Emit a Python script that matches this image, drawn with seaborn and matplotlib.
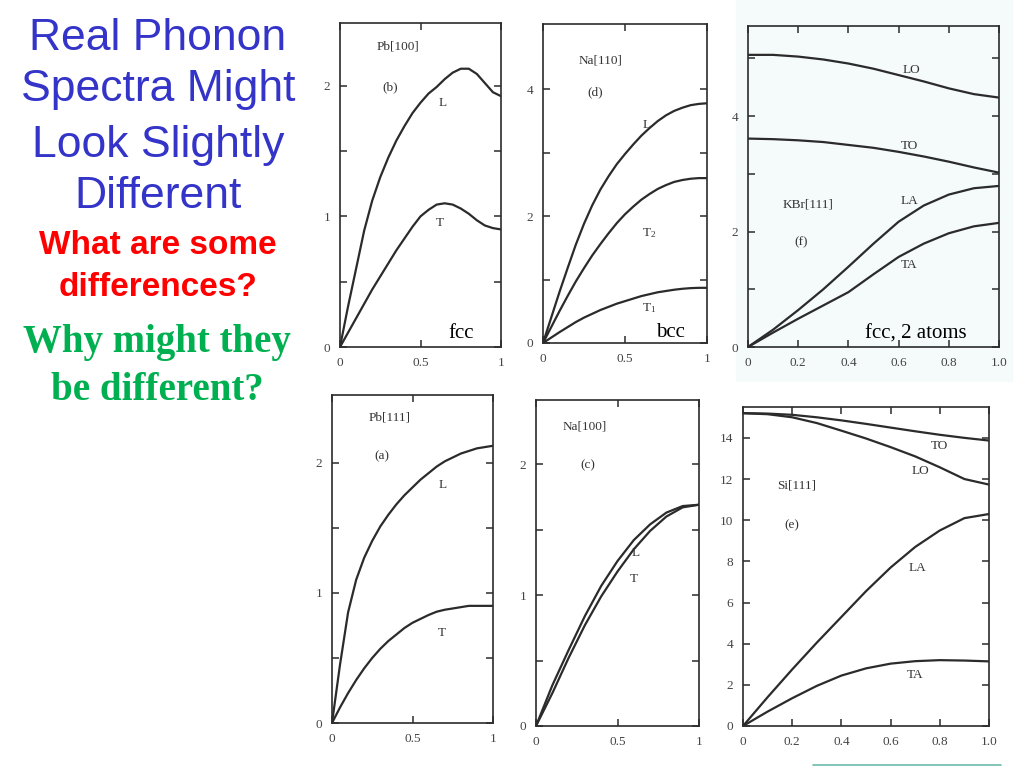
import numpy as np
import matplotlib
matplotlib.use("Agg")
import matplotlib.pyplot as plt
import seaborn as sns

# -----------------------------------------------------------------------------
# data (reduced wave vector vs frequency)
# -----------------------------------------------------------------------------
q21 = [0, .05, .1, .15, .2, .25, .3, .35, .4, .45, .5,
       .55, .6, .65, .7, .75, .8, .85, .9, .95, 1.0]
q11 = [0, .1, .2, .3, .4, .5, .6, .7, .8, .9, 1.0]

# Pb[100]
pb100_L = [0, .31, .60, .89, 1.12, 1.30, 1.45, 1.58, 1.69, 1.79, 1.87,
           1.94, 1.99, 2.05, 2.10, 2.13, 2.13, 2.09, 2.02, 1.95, 1.92]
pb100_T = [0, .11, .22, .33, .44, .54, .64, .74, .83, .92, 1.0,
           1.05, 1.09, 1.10, 1.09, 1.06, 1.02, .97, .93, .91, .90]

# Na[110]
na110_L = [0, .40, .80, 1.18, 1.55, 1.88, 2.17, 2.42, 2.63, 2.82, 2.98,
           3.13, 3.27, 3.39, 3.50, 3.59, 3.66, 3.71, 3.75, 3.77, 3.78]
na110_T2 = [0, .25, .50, .74, .97, 1.18, 1.38, 1.56, 1.73, 1.89, 2.03,
            2.15, 2.26, 2.35, 2.43, 2.49, 2.54, 2.57, 2.59, 2.60, 2.60]
na110_T1 = [0, .085, .17, .25, .33, .40, .46, .52, .57, .62, .66,
            .70, .74, .77, .80, .82, .84, .855, .865, .87, .87]

# KBr[111]
kbr_LO = [5.06, 5.06, 5.03, 4.98, 4.91, 4.82, 4.71, 4.60, 4.48, 4.38, 4.32]
kbr_TO = [3.61, 3.60, 3.58, 3.55, 3.50, 3.45, 3.38, 3.30, 3.21, 3.11, 3.02]
kbr_LA = [0, .30, .64, 1.00, 1.39, 1.79, 2.17, 2.45, 2.64, 2.75, 2.79]
kbr_TA = [0, .25, .49, .72, .95, 1.26, 1.56, 1.79, 1.97, 2.09, 2.15]

# Pb[111]
pb111_L = [0, .45, .85, 1.10, 1.27, 1.40, 1.51, 1.60, 1.68, 1.75, 1.81,
           1.87, 1.92, 1.97, 2.01, 2.04, 2.07, 2.09, 2.11, 2.12, 2.13]
pb111_T = [0, .12, .23, .33, .42, .50, .57, .63, .68, .73, .77,
           .80, .83, .855, .87, .88, .89, .90, .90, .90, .90]

# Na[100]
na100_L = [0, .31, .58, .84, 1.07, 1.26, 1.42, 1.54, 1.63, 1.68, 1.69]
na100_T = [0, .25, .52, .77, .99, 1.18, 1.35, 1.49, 1.60, 1.67, 1.69]

# Si[111]
si_TO = [15.2, 15.18, 15.12, 15.0, 14.85, 14.68, 14.5, 14.32, 14.15, 14.0, 13.87]
si_LO = [15.2, 15.15, 15.0, 14.72, 14.35, 13.97, 13.55, 13.1, 12.57, 12.0, 11.73]
si_LA = [0, 1.4, 2.75, 4.05, 5.3, 6.55, 7.7, 8.7, 9.5, 10.1, 10.3]
si_TA = [0, .7, 1.35, 1.95, 2.45, 2.8, 3.03, 3.15, 3.2, 3.18, 3.14]

# -----------------------------------------------------------------------------
# setup
# -----------------------------------------------------------------------------
sns.set_theme(style="white")
plt.rcParams["font.family"] = ["Liberation Serif", "DejaVu Serif"]
plt.rcParams["mathtext.fontset"] = "custom"
plt.rcParams["mathtext.rm"] = "Liberation Serif"
plt.rcParams["mathtext.it"] = "Liberation Serif"

W, H = 1024, 768
fig = plt.figure(figsize=(W / 100, H / 100), dpi=100)
fig.patch.set_facecolor("white")


def px_rect(l, t, r, b):
    return [l / W, 1 - b / H, (r - l) / W, (b - t) / H]


# faint tint of the scanned KBr image and the thin teal rule at bottom right
fig.patches.append(plt.Rectangle((736 / W, 1 - 381 / H), (1012 - 736) / W, 381 / H,
                                 transform=fig.transFigure, color="#f5fafb", zorder=-5))
fig.add_artist(plt.Line2D([813 / W, 1001 / W], [1 - 765 / H, 1 - 765 / H],
                          color="#6cbcaa", lw=1.2))

INK = "#2b2b2b"

panels = [
    dict(rect=(340, 23, 501, 347), q=q21, curves=[pb100_L, pb100_T], ylim=2.48,
         yticks=[0, .5, 1, 1.5, 2], ylab=["0", "", "1", "", "2"],
         xticks=[0, .5, 1], xlab=["0", "0.5", "1"],
         texts=[("Pb[100]", .36, 2.30), ("(b)", .31, 1.99), ("L", .64, 1.87), ("T", .62, .95)],
         tag=("fcc", .75, .10)),
    dict(rect=(543, 24, 707, 343), q=q21, curves=[na110_L, na110_T2, na110_T1], ylim=5.03,
         yticks=[0, 1, 2, 3, 4], ylab=["0", "", "2", "", "4"],
         xticks=[0, .5, 1], xlab=["0", "0.5", "1"],
         texts=[("Na[110]", .35, 4.46), ("(d)", .32, 3.96), ("L", .63, 3.44),
                ("T$_2$", .645, 1.73), ("T$_1$", .645, .55)],
         tag=("bcc", .78, .16)),
    dict(rect=(748, 26, 999, 347), q=q11, curves=[kbr_LO, kbr_TO, kbr_LA, kbr_TA], ylim=5.56,
         yticks=[0, 1, 2, 3, 4, 5], ylab=["0", "", "2", "", "4", ""],
         xticks=[0, .2, .4, .6, .8, 1.0], xlab=["0", "0.2", "0.4", "0.6", "0.8", "1.0"],
         texts=[("LO", .65, 4.79), ("TO", .645, 3.49), ("KBr[111]", .24, 2.47),
                ("LA", .645, 2.53), ("(f)", .21, 1.81), ("TA", .64, 1.42)],
         tag=("fcc, 2 atoms", .67, .23)),
    dict(rect=(332, 395, 493, 723), q=q21, curves=[pb111_L, pb111_T], ylim=2.52,
         yticks=[0, .5, 1, 1.5, 2], ylab=["0", "", "1", "", "2"],
         xticks=[0, .5, 1], xlab=["0", "0.5", "1"],
         texts=[("Pb[111]", .36, 2.35), ("(a)", .31, 2.05), ("L", .69, 1.83), ("T", .68, .69)],
         tag=None),
    dict(rect=(536, 400, 699, 726), q=q11, curves=[na100_L, na100_T], ylim=2.49,
         yticks=[0, .5, 1, 1.5, 2], ylab=["0", "", "1", "", "2"],
         xticks=[0, .5, 1], xlab=["0", "0.5", "1"],
         texts=[("Na[100]", .30, 2.29), ("(c)", .32, 1.99), ("L", .61, 1.32), ("T", .60, 1.12)],
         tag=None),
    dict(rect=(743, 407, 989, 726), q=q11, curves=[si_TO, si_LO, si_LA, si_TA], ylim=15.5,
         yticks=[0, 2, 4, 6, 8, 10, 12, 14], ylab=["0", "2", "4", "6", "8", "10", "12", "14"],
         xticks=[0, .2, .4, .6, .8, 1.0], xlab=["0", "0.2", "0.4", "0.6", "0.8", "1.0"],
         texts=[("TO", .80, 13.6), ("LO", .72, 12.4), ("Si[111]", .22, 11.7),
                ("(e)", .20, 9.74), ("LA", .71, 7.7), ("TA", .70, 2.5)],
         tag=None),
]

for p in panels:
    ax = fig.add_axes(px_rect(*p["rect"]))
    ax.set_facecolor("none")
    ax.set_zorder(2)
    for vals in p["curves"]:
        sns.lineplot(x=p["q"], y=vals, ax=ax, color=INK, lw=1.6, estimator=None)
    ax.set_xlim(0, 1)
    ax.set_ylim(0, p["ylim"])
    ax.set_xticks(p["xticks"])
    ax.set_xticklabels(p["xlab"])
    ax.set_yticks(p["yticks"])
    ax.set_yticklabels(p["ylab"])
    ax.tick_params(direction="in", length=5, width=1.1, color=INK, labelcolor="#444444",
                   labelsize=9.5, top=True, right=True, bottom=True, left=True,
                   pad=7)
    for s in ax.spines.values():
        s.set_visible(True)
        s.set_color(INK)
        s.set_linewidth(1.2)
    for txt, x, y in p["texts"]:
        ax.text(x, y, txt, fontsize=9.5, color="#333333", ha="center", va="center")
    if p["tag"]:
        t, x, y = p["tag"]
        ax.text(x, y, t, fontsize=15, color="black", ha="center", va="center")

# left-hand slide text
title_lines = [("Real Phonon", 38), ("Spectra Might", 90), ("Look Slightly", 145), ("Different", 197)]
for line, y in title_lines:
    fig.text(158 / W, 1 - y / H, line, fontsize=32, color="#3434C8",
             family=["Liberation Sans", "DejaVu Sans"], ha="center", va="center")

for line, y in [("What are some", 246), ("differences?", 288)]:
    fig.text(158 / W, 1 - y / H, line, fontsize=24, color="#FF0000", weight="bold",
             family=["Liberation Sans", "DejaVu Sans"], ha="center", va="center")

for line, y in [("Why might they", 343), ("be different?", 390)]:
    fig.text(157 / W, 1 - y / H, line, fontsize=28, color="#00B050", weight="bold",
             family=["Liberation Serif", "DejaVu Serif"], ha="center", va="center")

plt.savefig("out.png", dpi=100)
